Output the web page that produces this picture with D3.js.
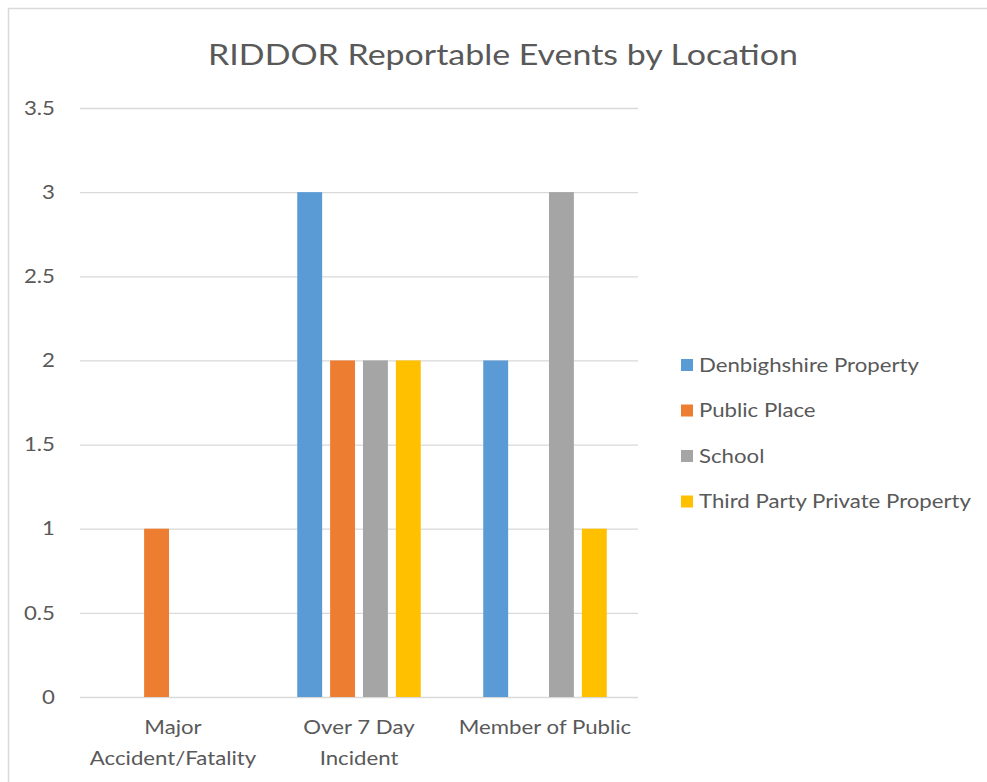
<!DOCTYPE html>
<html><head><meta charset="utf-8">
<script src="https://cdn.jsdelivr.net/npm/d3@7"></script>
<style>body{margin:0;background:#fff}svg{display:block}text{font-family:Lato,"Open Sans",sans-serif;fill:#595959}</style>
</head><body><svg id="c" width="987" height="782"></svg>
<script>
const title = "RIDDOR Reportable Events by Location";
const categories = [["Major","Accident/Fatality"],["Over 7 Day","Incident"],["Member of Public"]];
const seriesNames = ["Denbighshire Property","Public Place","School","Third Party Private Property"];
const denbighshire = [0,3,2];
const publicPlace = [1,2,0];
const school = [0,2,3];
const thirdParty = [0,2,1];
const seriesValues = [denbighshire, publicPlace, school, thirdParty];
const colors = ["#5B9BD5","#ED7D31","#A5A5A5","#FFC000"];
const yTicks = [0,0.5,1,1.5,2,2.5,3,3.5];
const SX = 1.17;

const svg = d3.select("#c");
svg.append("rect").attr("x",8.5).attr("y",8.5).attr("width",1100).attr("height",900)
  .attr("fill","#fff").attr("stroke","#d9d9d9").attr("stroke-width",1.5);

const L=80,R=638,T=108,B=697;
const y = d3.scaleLinear().domain([0,3.5]).range([B,T]);
const catIdx = categories.map((d,i)=>i);
const x0 = d3.scaleBand().domain(catIdx).range([L,R]).paddingInner(0.336).paddingOuter(0.168);
const x1 = d3.scaleBand().domain(d3.range(seriesNames.length)).range([0,x0.bandwidth()]).paddingInner(0.2424);

function stext(parent, x, yy, size, anchor){
  return parent.append("g").attr("transform",`translate(${x},${yy}) scale(${SX},1)`)
    .append("text").attr("text-anchor",anchor).style("font-size",size+"px");
}

stext(svg, 503, 65, 29, "middle").text(title);

const yAxis = d3.axisLeft(y).tickValues(yTicks).tickSize(-(R-L)).tickFormat(()=> "");
const gy = svg.append("g").attr("transform",`translate(${L},0)`).call(yAxis);
gy.select(".domain").remove();
gy.selectAll(".tick line").attr("stroke","#d9d9d9").attr("stroke-width",1.3);
gy.selectAll(".tick text").remove();
yTicks.forEach(v=>{
  stext(svg, L-25, y(v), 19, "end").attr("dy","0.35em").text(String(v));
});

const g = svg.append("g");
seriesValues.forEach((vals,s)=>{
  g.selectAll(null).data(vals.map((v,i)=>({v,i}))).enter().append("rect")
    .attr("x",d=>x0(d.i)+x1(s)).attr("width",x1.bandwidth())
    .attr("y",d=>y(d.v)).attr("height",d=>y(0)-y(d.v))
    .attr("fill",colors[s]);
});

categories.forEach((lines,i)=>{
  lines.forEach((ln,k)=>{
    stext(svg, x0(i)+x0.bandwidth()/2, 734 + k*31, 19, "middle").text(ln);
  });
});

const lg = svg.append("g").attr("transform","translate(681,365)");
seriesNames.forEach((n,s)=>{
  const r = lg.append("g").attr("transform",`translate(0,${s*45.5})`);
  r.append("rect").attr("x",0).attr("y",-6).attr("width",12).attr("height",12).attr("fill",colors[s]);
  stext(r, 18, 0, 19, "start").attr("dy","0.35em").text(n);
});
</script></body></html>
